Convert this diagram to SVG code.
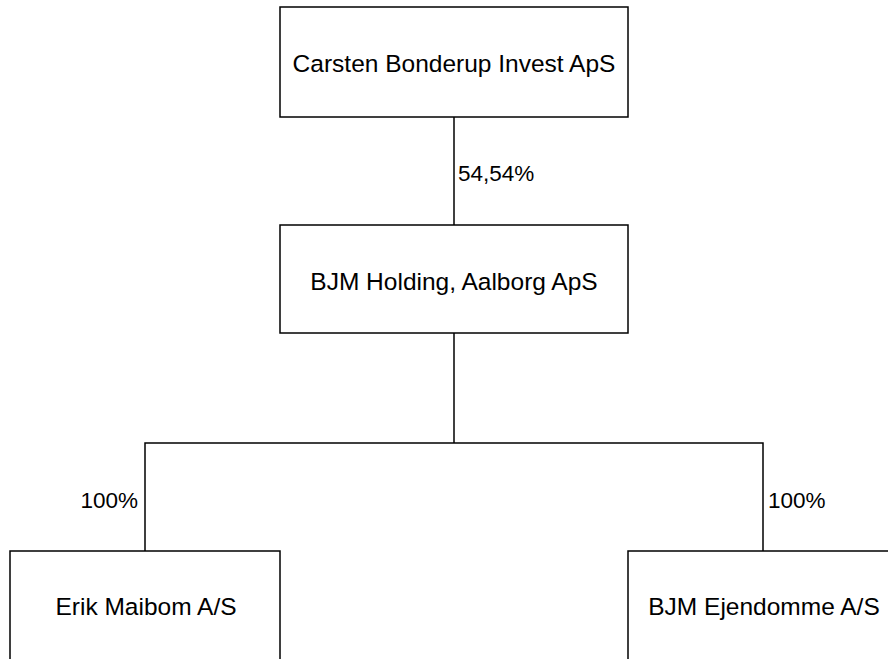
<svg xmlns="http://www.w3.org/2000/svg" width="888" height="659" viewBox="0 0 888 659">
<style>
.box{fill:#fff;stroke:#000;stroke-width:1.5}
.lbl{font-family:"Liberation Sans",Arial,sans-serif;font-size:24.5px;fill:#000;text-anchor:middle}
.pct{font-family:"Liberation Sans",Arial,sans-serif;font-size:22.5px;fill:#000}
.conn{fill:none;stroke:#000;stroke-width:1.5}
</style>
<rect width="888" height="659" fill="#fff"/>
<g id="connectors">
<line class="conn" x1="454" y1="117" x2="454" y2="225"/>
<polyline class="conn" points="454,333 454,443"/>
<polyline class="conn" points="145,551 145,443 763,443 763,551"/>
<text class="pct" x="458" y="181">54,54%</text>
<text class="pct" x="138" y="508" text-anchor="end">100%</text>
<text class="pct" x="768" y="508">100%</text>
</g>
<g id="carsten">
<rect class="box" x="280" y="7" width="348" height="110"/>
<text class="lbl" x="454" y="72">Carsten Bonderup Invest ApS</text>
</g>
<g id="bjmholding">
<rect class="box" x="280" y="225" width="348" height="108"/>
<text class="lbl" x="454" y="290">BJM Holding, Aalborg ApS</text>
</g>
<g id="erik">
<rect class="box" x="10" y="551" width="270" height="120"/>
<text class="lbl" x="146" y="615">Erik Maibom A/S</text>
</g>
<g id="bjmejendomme">
<rect class="box" x="628" y="551" width="272" height="120"/>
<text class="lbl" x="764" y="615">BJM Ejendomme A/S</text>
</g>
</svg>
